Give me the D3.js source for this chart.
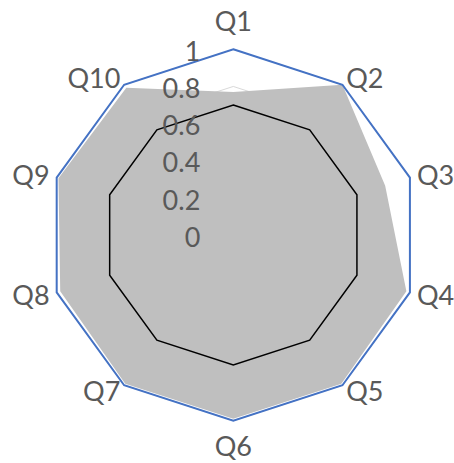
<!DOCTYPE html>
<html>
<head>
<meta charset="utf-8">
<script src="https://cdn.jsdelivr.net/npm/d3@7"></script>
<style>
  html, body { margin: 0; padding: 0; background: #fff; }
  svg { display: block; }
  text { font-family: Lato, "Open Sans", "Liberation Sans", sans-serif; fill: #595959; }
</style>
</head>
<body>
<svg id="chart" width="454" height="463"></svg>
<script>
// Radar categories and series
const categories = ["Q1", "Q2", "Q3", "Q4", "Q5", "Q6", "Q7", "Q8", "Q9", "Q10"];
const filledValues = [0.77, 1.0, 0.86, 0.98, 0.99, 0.99, 0.99, 0.98, 0.99, 0.98];
const outerValues  = [1, 1, 1, 1, 1, 1, 1, 1, 1, 1];
const innerValues  = [0.7, 0.7, 0.7, 0.7, 0.7, 0.7, 0.7, 0.7, 0.7, 0.7];
const tickValues = [0, 0.2, 0.4, 0.6, 0.8, 1];
const tickLabels = ["0", "0.2", "0.4", "0.6", "0.8", "1"];

const width = 454, height = 463;
const cx = 233.3, cy = 235, R = 185.7;

const svg = d3.select("#chart");
const g = svg.append("g").attr("transform", `translate(${cx},${cy})`);

const r = d3.scaleLinear().domain([0, 1]).range([0, R]);
const angle = d3.scalePoint()
  .domain(categories)
  .range([0, 2 * Math.PI * (1 - 1 / categories.length)]);

const radial = d3.lineRadial()
  .angle((d, i) => angle(categories[i]))
  .radius(d => r(d))
  .curve(d3.curveLinearClosed);

// Concentric gridlines
g.append("g").selectAll("path")
  .data(tickValues.filter(v => v > 0))
  .join("path")
  .attr("d", v => radial(categories.map(() => v)))
  .attr("fill", "none")
  .attr("stroke", "#D9D9D9")
  .attr("stroke-width", 1);

// Filled series
g.append("path")
  .attr("d", radial(filledValues))
  .attr("fill", "#BFBFBF")
  .attr("stroke", "none");

// Outer line series
g.append("path")
  .attr("d", radial(outerValues))
  .attr("fill", "none")
  .attr("stroke", "#4472C4")
  .attr("stroke-width", 2)
  .attr("stroke-linejoin", "miter");

// Inner line series
g.append("path")
  .attr("d", radial(innerValues))
  .attr("fill", "none")
  .attr("stroke", "#000")
  .attr("stroke-width", 1.5)
  .attr("stroke-linejoin", "miter");

// Value axis labels along the first spoke
g.append("g").selectAll("text")
  .data(tickValues)
  .join("text")
  .attr("x", -33)
  .attr("y", v => -r(v) + 11.7)
  .attr("text-anchor", "end")
  .attr("font-size", 27)
  .text((v, i) => tickLabels[i]);

// Category labels around the outside
g.append("g").selectAll("text")
  .data(categories)
  .join("text")
  .each(function (c) {
    const a = angle(c);
    const s = Math.sin(a), co = Math.cos(a);
    const vx = r(1) * s, vy = -r(1) * co;
    const t = d3.select(this);
    let x, yc, anchor;
    if (Math.abs(s) < 0.01) {
      anchor = "middle";
      x = vx;
      yc = vy - co * (co > 0 ? 28.5 : 26);
    } else {
      anchor = s > 0 ? "start" : "end";
      x = vx + Math.sign(s) * (3 + 4.5 * (Math.abs(s) - 0.5) * 2);
      yc = vy - co * 8;
    }
    t.attr("x", x).attr("y", yc + 9.7).attr("text-anchor", anchor);
  })
  .attr("font-size", 27)
  .text(d => d);
</script>
</body>
</html>
